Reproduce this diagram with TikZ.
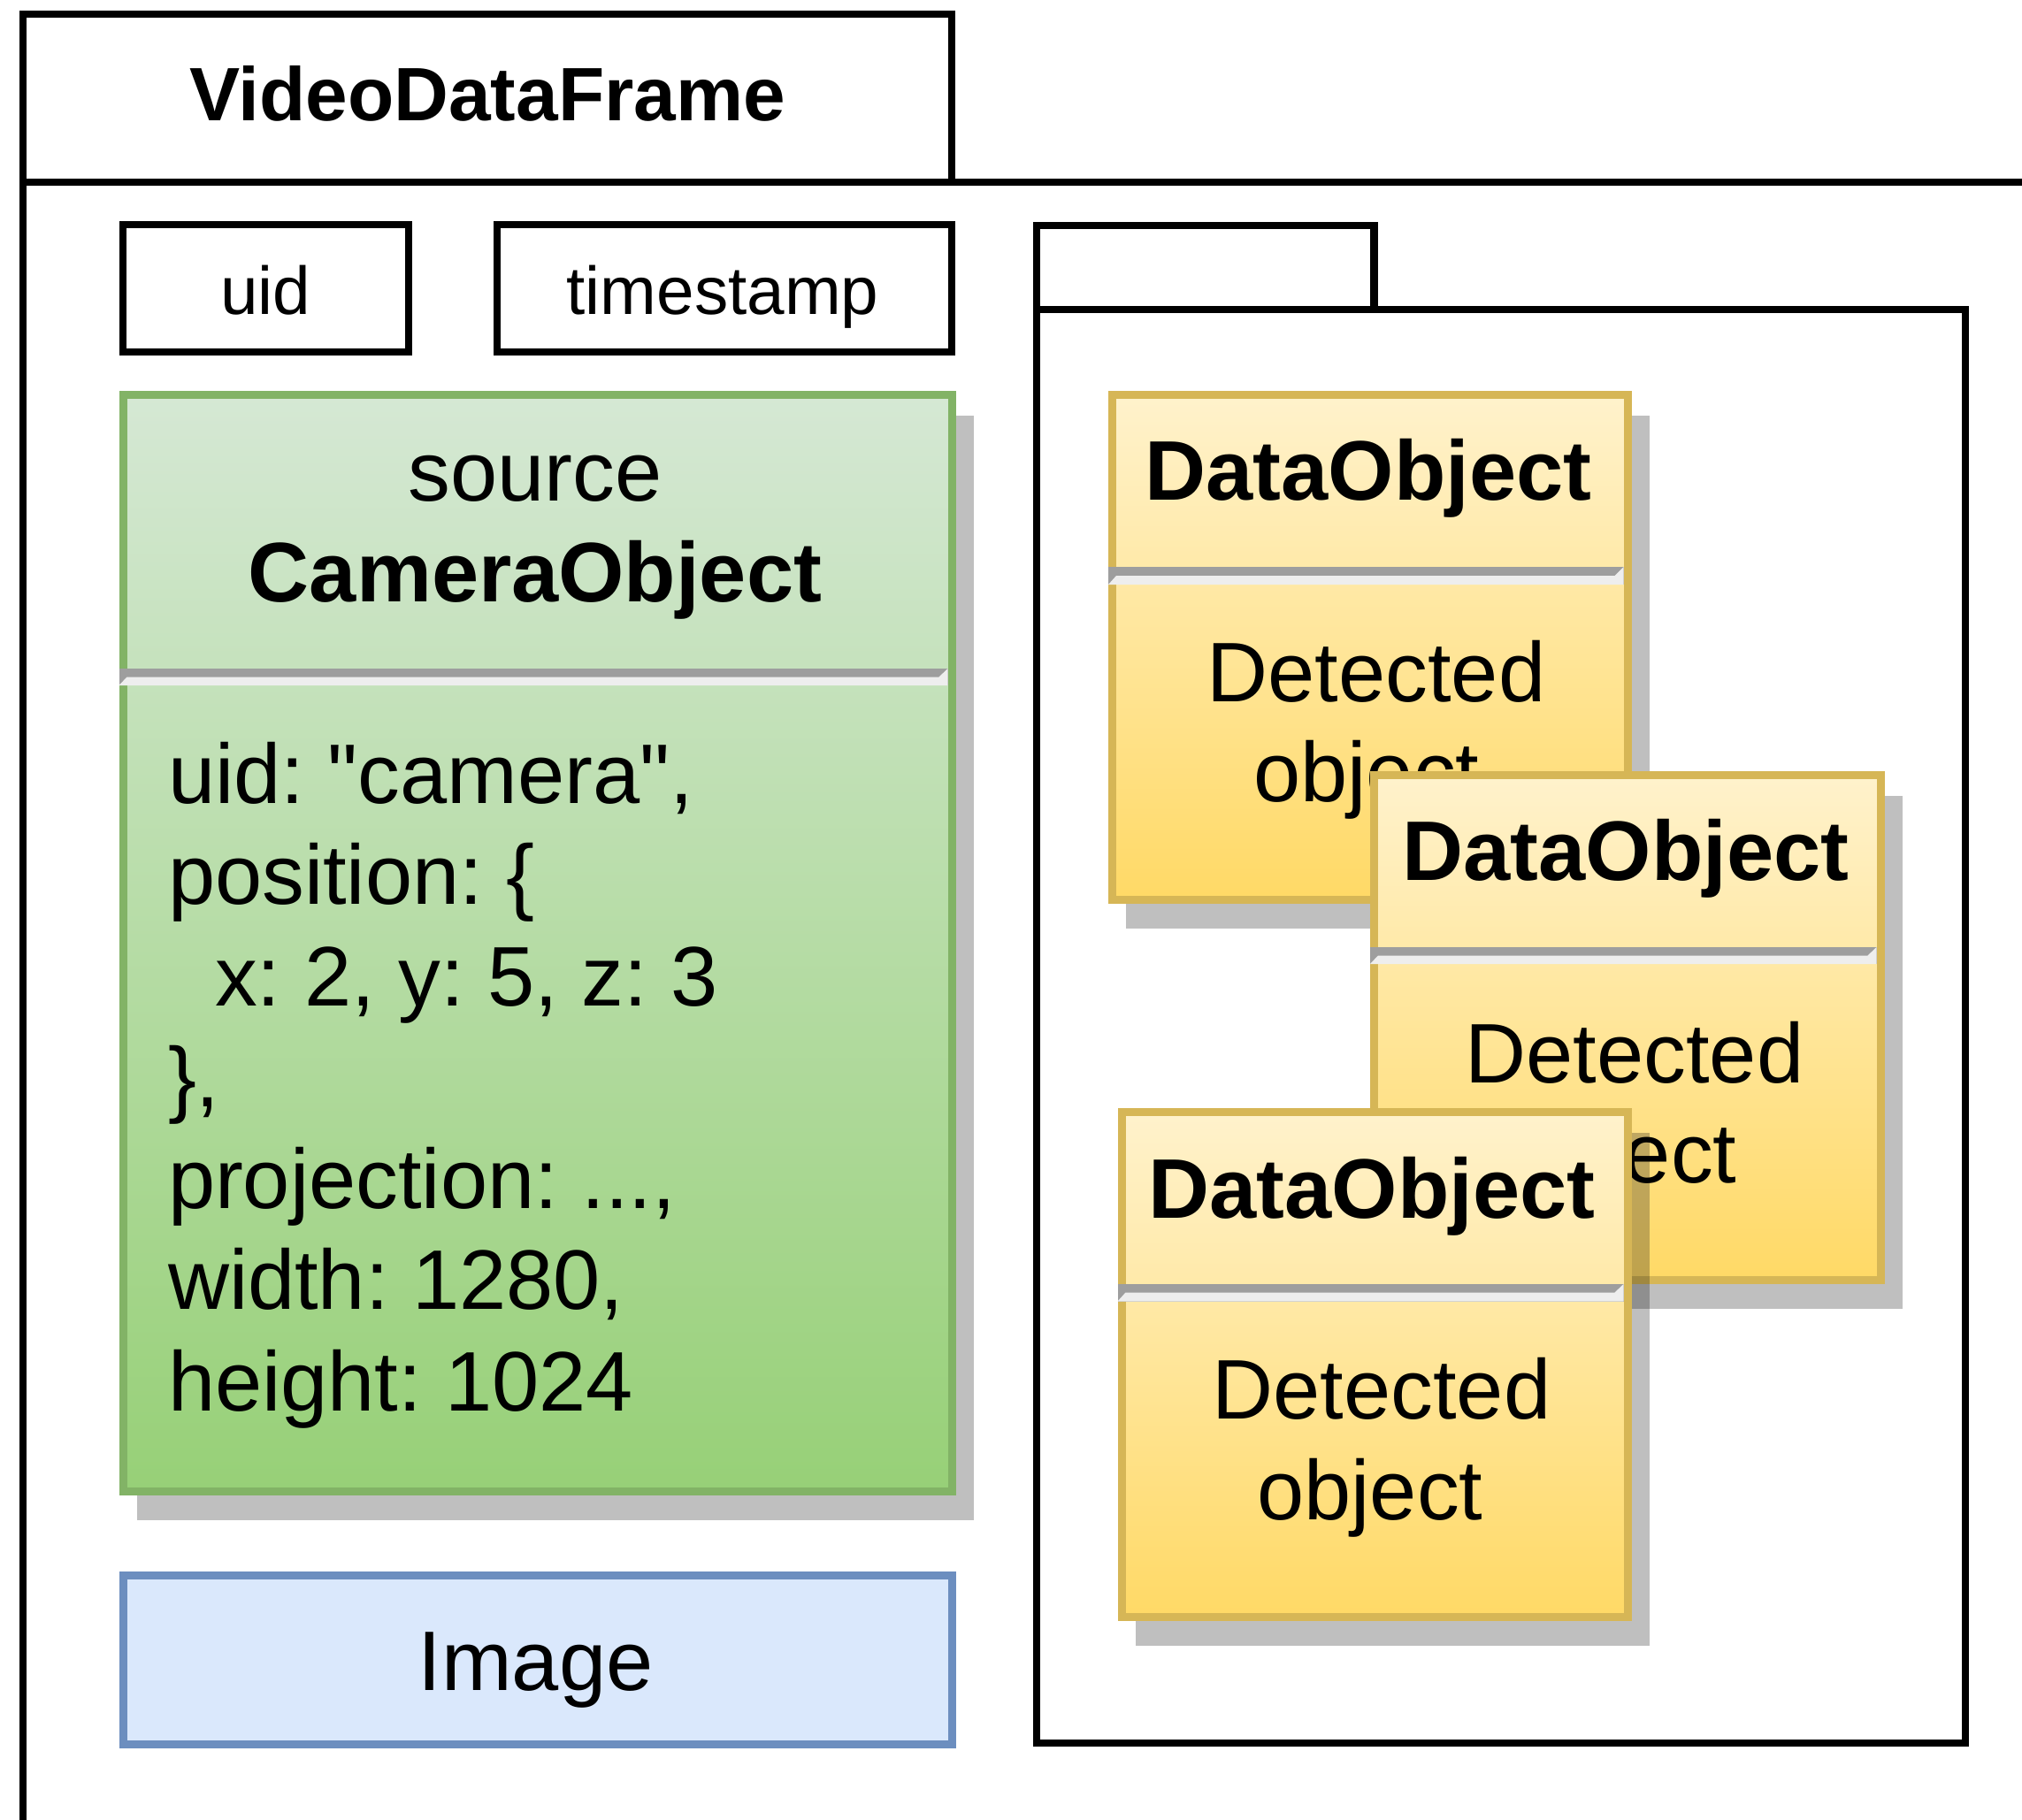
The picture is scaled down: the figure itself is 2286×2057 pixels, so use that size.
\documentclass[tikz,border=0pt]{standalone}
\usepackage{fontspec}
\newfontfamily\uifont{Liberation Sans}
\frenchspacing
\definecolor{greenstroke}{HTML}{82B366}
\definecolor{greentop}{HTML}{D5E8D4}
\definecolor{greenbottom}{HTML}{97D077}
\definecolor{yellowstroke}{HTML}{D6B656}
\definecolor{yellowtop}{HTML}{FFF2CC}
\definecolor{yellowbottom}{HTML}{FFD966}
\definecolor{bluestroke}{HTML}{6C8EBF}
\definecolor{bluefill}{HTML}{DAE8FC}
\definecolor{ruledarkc}{HTML}{9E9E9E}
\definecolor{rulelightc}{HTML}{EEEEEE}
% horizontal 3D rule between the name and the body of a class box
% #1 outer left x, #2 inner left x, #3 inner right x, #4 top y, #5 middle y, #6 bottom y
\newcommand\classrule[6]{%
  \fill[ruledarkc] (#1,#4) rectangle (#3,#6);
  \fill[rulelightc] (#1,#6) -- (#2,#5) -- ({#3-10},#5) -- (#3,#4) -- (#3,#6) -- cycle;
}
\begin{document}
\frenchspacing
\begin{tikzpicture}[x=0.5pt,y=-0.5pt,
  sized/.style 2 args={minimum width=#1*0.5pt, minimum height=#2*0.5pt,
    inner sep=0pt, outer sep=0pt, anchor=north west},
  blackbox/.style={draw=black, line width=4.4pt},
  greenbox/.style={draw=greenstroke, line width=4.5pt, top color=greentop, bottom color=greenbottom},
  yellowbox/.style={draw=yellowstroke, line width=4.5pt, top color=yellowtop, bottom color=yellowbottom},
  bluebox/.style={draw=bluestroke, line width=4.5pt, fill=bluefill},
  boxshadow/.style={fill=black, fill opacity=0.25},
  txt/.style={inner sep=0pt, outer sep=0pt, anchor=base, font=\uifont\frenchspacing\fontsize{47.8}{57.4}\selectfont},
  txtleft/.style={txt, anchor=base west},
  smalltxt/.style={txt, font=\uifont\fontsize{38.25}{46}\selectfont},
  titletxt/.style={txt, font=\uifont\bfseries\fontsize{42.8}{51.4}\selectfont},
  boldtxt/.style={txt, font=\uifont\bfseries\fontsize{47.8}{57.4}\selectfont},
]
\useasboundingbox (0,0) rectangle (2286,2057);
\clip (0,0) rectangle (2286,2057);

% outer frame with its name tab
\node[sized={1050}{190}, blackbox] (vdf) at (26,16) {};
\draw[blackbox] (vdf.north west) -- (26,2200);
\draw[blackbox] (vdf.south west) -- (2400,206);
\node[titletxt] (vdfname) at (551,136) {VideoDataFrame};

% uid and timestamp fields
\node[sized={323}{144}, blackbox] (uidbox) at (139,254) {};
\node[smalltxt] (uidname) at (300.5,355) {uid};
\node[sized={514}{144}, blackbox] (tsbox) at (562,254) {};
\node[smalltxt] (tsname) at (817,355) {timestamp};

% camera object
\fill[boxshadow] (154.5,469.5) rectangle (1100.5,1718.5);
\node[sized={937}{1240}, greenbox] (cam) at (139,446) {};
\classrule{134.5}{143.5}{1071.5}{756}{765.5}{775}
\node[txt] (camrole) at (605,566) {source};
\node[boldtxt] (camclass) at (605,680) {CameraObject};
\node[txtleft] (cam1) at (190,908) {uid: "camera",};
\node[txtleft] (cam2) at (190,1022.5) {position: \{};
\node[txtleft] (cam3) at (190,1137) {\hspace*{0.556em}x: 2, y: 5, z: 3};
\node[txtleft] (cam4) at (190,1251.5) {\},};
\node[txtleft] (cam5) at (190,1366) {projection: ...,};
\node[txtleft] (cam6) at (190,1480.5) {width: 1280,};
\node[txtleft] (cam7) at (190,1595) {height: 1024};

% image
\node[sized={937}{191}, bluebox] (img) at (139,1781.5) {};
\node[txt] (imgname) at (605.5,1911) {Image};

% container of detected objects
\node[sized={381.5}{95}, blackbox] (objtab) at (1172,255) {};
\node[sized={1050}{1621}, blackbox] (objpkg) at (1172,350) {};

% data object 1
\fill[boxshadow] (1273,469.5) rectangle (1864.5,1049.5);
\node[sized={582.5}{571}, yellowbox] (dobj1) at (1257.5,446) {};
\classrule{1253}{1262}{1835.5}{641}{651}{661}
\node[boldtxt] (dobj1name) at (1547,565) {DataObject};
\node[txt] (dobj1a) at (1556,793) {Detected};
\node[txt] (dobj1b) at (1545,906) {object};

% data object 2
\fill[boxshadow] (1569,899.5) rectangle (2150.5,1479.5);
\node[sized={572.5}{571}, yellowbox] (dobj2) at (1553.5,876) {};
\classrule{1549}{1558}{2121.5}{1071}{1080.5}{1090}
\node[boldtxt] (dobj2name) at (1838,995) {DataObject};
\node[txt] (dobj2a) at (1848,1224) {Detected};
\node[txt] (dobj2b) at (1836,1337) {object};

% data object 3
\fill[boxshadow] (1283.5,1280.5) rectangle (1864.5,1861);
\node[sized={572}{571.5}, yellowbox] (dobj3) at (1268,1257) {};
\classrule{1263.5}{1272.5}{1835.5}{1452}{1461.5}{1471.5}
\node[boldtxt] (dobj3name) at (1551,1377) {DataObject};
\node[txt] (dobj3a) at (1562,1604) {Detected};
\node[txt] (dobj3b) at (1549,1718) {object};
\end{tikzpicture}
\end{document}
